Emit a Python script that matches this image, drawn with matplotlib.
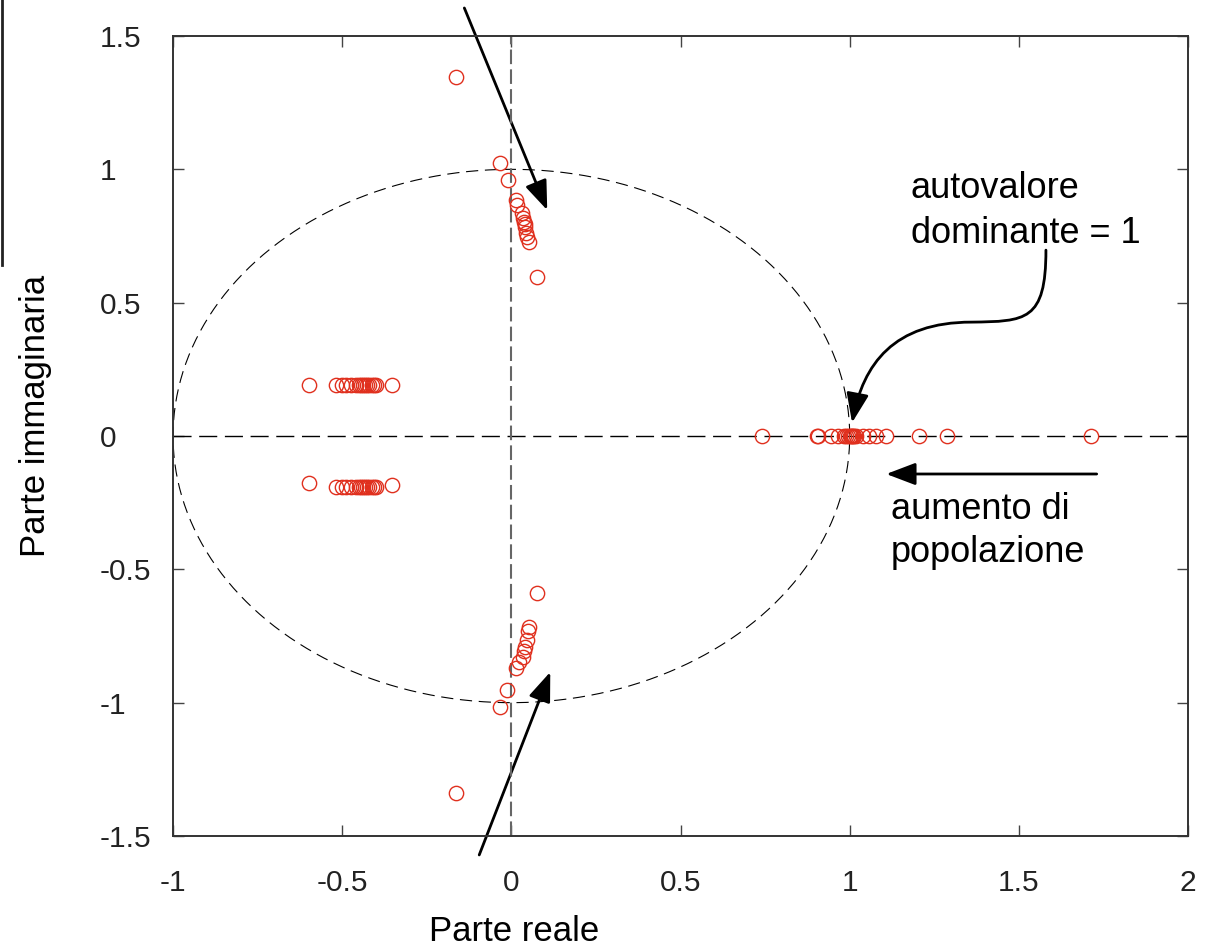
import numpy as np
import matplotlib
matplotlib.use("Agg")
import matplotlib.pyplot as plt
from matplotlib.patches import FancyArrowPatch
from matplotlib.path import Path
from matplotlib.lines import Line2D

plt.rcParams['font.family'] = ['Liberation Sans', 'DejaVu Sans']

# Eigenvalues on the real axis
real_eigs = [0.742, 0.902, 0.905, 0.946, 0.964, 0.984, 0.990, 0.996, 1.0, 1.003,
             1.006, 1.010, 1.014, 1.020, 1.038, 1.058, 1.079, 1.108, 1.206, 1.289, 1.714]

# Complex eigenvalues close to the imaginary axis (upper half-plane)
upper_re = [-0.163, -0.033, -0.009, 0.015, 0.018, 0.030, 0.034, 0.038, 0.040,
            0.041, 0.044, 0.047, 0.053, 0.077]
upper_im = [1.346, 1.024, 0.960, 0.885, 0.866, 0.836, 0.818, 0.803, 0.795,
            0.784, 0.761, 0.745, 0.728, 0.596]

# Complex eigenvalues close to the imaginary axis (lower half-plane)
lower_re = [0.077, 0.053, 0.050, 0.045, 0.041, 0.037, 0.033, 0.024, 0.015, -0.012,
            -0.033, -0.163]
lower_im = [-0.590, -0.716, -0.730, -0.765, -0.791, -0.805, -0.829, -0.847, -0.870,
            -0.952, -1.016, -1.339]

# Complex eigenvalues in the left half-plane
left_re = [-0.597, -0.517, -0.502, -0.488, -0.473, -0.458, -0.450, -0.443, -0.438,
           -0.434, -0.426, -0.420, -0.411, -0.405, -0.399, -0.352]
left_im_up = [0.191] * len(left_re)
left_im_dn = [-0.177] + [-0.19] * (len(left_re) - 2) + [-0.184]

x_ticks = [-1, -0.5, 0, 0.5, 1, 1.5, 2]
x_ticklabels = ['-1', '-0.5', '0', '0.5', '1', '1.5', '2']
y_ticks = [-1.5, -1, -0.5, 0, 0.5, 1, 1.5]
y_ticklabels = ['-1.5', '-1', '-0.5', '0', '0.5', '1', '1.5']

fig = plt.figure(figsize=(12.16, 9.47), dpi=100)
ax = fig.add_axes([0.1423, 0.1172, 0.8347, 0.8448])

# Unit circle and reference axes
t = np.linspace(0, 2 * np.pi, 400)
ax.plot(np.cos(t), np.sin(t), color='black', lw=0.8, dashes=(11, 6))
ax.axhline(0, color='black', lw=1.0, dashes=(13, 5.5))
ax.axvline(0, color='#666666', lw=1.5, dashes=(7, 2.5))

mk = dict(linestyle='none', marker='o', markersize=10.3, markerfacecolor='none',
          markeredgecolor='#e0301e', markeredgewidth=1.0)
ax.plot(real_eigs, np.zeros(len(real_eigs)), **mk)
ax.plot(upper_re, upper_im, **mk)
ax.plot(lower_re, lower_im, **mk)
ax.plot(left_re, left_im_up, **mk)
ax.plot(left_re, left_im_dn, **mk)

ax.set_xlim(-1, 2)
ax.set_ylim(-1.5, 1.5)
ax.set_xticks(x_ticks)
ax.set_xticklabels(x_ticklabels)
ax.set_yticks(y_ticks)
ax.set_yticklabels(y_ticklabels)
ax.tick_params(direction='in', length=8, width=1, color='#444444',
               top=True, right=True, labelsize=21.5, colors='#222222')
ax.tick_params(axis='x', pad=24)
ax.tick_params(axis='y', pad=52.5)
for lab in ax.get_yticklabels():
    lab.set_horizontalalignment('left')
for s in ax.spines.values():
    s.set_color('#333333')
    s.set_linewidth(1.4)

ax.set_xlabel('Parte reale', fontsize=25)
ax.xaxis.set_label_coords(0.336, -0.099)
ax.set_ylabel('Parte immaginaria', fontsize=25)
ax.yaxis.set_label_coords(-0.119, 0.525)

# Straight arrows
head = '-|>,head_length=1.0,head_width=0.38'
arrow_kw = dict(arrowstyle=head, color='black', lw=2, mutation_scale=18,
                clip_on=False, shrinkA=0, shrinkB=0)
ax.add_patch(FancyArrowPatch((-0.139, 1.605), (0.106, 0.847), **arrow_kw))
ax.add_patch(FancyArrowPatch((-0.095, -1.571), (0.115, -0.885), **arrow_kw))
ax.add_patch(FancyArrowPatch((1.730, -0.1425), (1.108, -0.1425), **arrow_kw))

# Curved arrow pointing to the dominant eigenvalue
verts = [(1.580, 0.697), (1.580, 0.430), (1.520, 0.430), (1.360, 0.427),
         (1.130, 0.427), (1.040, 0.270), (1.007, 0.050)]
codes = [Path.MOVETO, Path.CURVE4, Path.CURVE4, Path.CURVE4,
         Path.CURVE4, Path.CURVE4, Path.CURVE4]
curve = FancyArrowPatch(path=Path(verts, codes), arrowstyle=head, color='black',
                        lw=2, mutation_scale=18, transform=ax.transData, clip_on=False)
ax.add_patch(curve)

ax.text(1.180, 0.995, 'autovalore\ndominante = 1', fontsize=26, ha='left', va='top',
        linespacing=1.4)
ax.text(1.122, -0.21, 'aumento di\npopolazione', fontsize=26, ha='left', va='top',
        linespacing=1.3)

# Cropped scale bar at the left border
fig.add_artist(Line2D([0.0015, 0.0015], [1.0, 1 - 265 / 947], color='#222222', lw=2.0,
                      transform=fig.transFigure))

fig.savefig('out.png', dpi=100)
